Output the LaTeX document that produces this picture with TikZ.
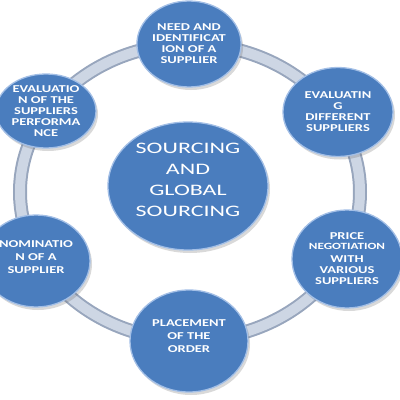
\documentclass[tikz,border=0pt]{standalone}
\usepackage{fontspec}
\usetikzlibrary{shapes.geometric,shadows}
\newfontfamily\discfont{Carlito}[FakeStretch=1.5]
\newfontfamily\discbold{Carlito Bold}[FakeStretch=1.38]
\definecolor{discblue}{HTML}{4A7DBE}
\definecolor{discrim}{HTML}{A3BFE6}
\definecolor{ringedge}{HTML}{98A6BD}
\definecolor{ringfill}{HTML}{CDD6E4}
\tikzset{
  disc/.style={ellipse, fill=discblue, draw=discrim, line width=1.3pt, inner sep=0pt,
    text=white, align=center, font=\discbold\fontsize{10.5}{11}\selectfont,
    drop shadow={shadow xshift=2pt, shadow yshift=-3pt, opacity=0.25, fill=black!60}},
}
\begin{document}
\begin{tikzpicture}[x=1pt,y=-1pt]
\useasboundingbox (0,0) rectangle (400,400);
\clip (0,0) rectangle (400,400);
% ring
\draw[ringedge, line width=14pt] (190,192) ellipse [x radius=170, y radius=148];
\draw[ringfill, line width=10pt] (190,192) ellipse [x radius=170, y radius=148];
% discs
\node[disc, minimum width=104pt, minimum height=86pt] (need) at (189,44)
  {NEED AND\\IDENTIFICAT\\ION OF A\\SUPPLIER};
\node[disc, minimum width=110pt, minimum height=89pt] (evald) at (338,112)
  {EVALUATIN\\G\\DIFFERENT\\SUPPLIERS};
\node[disc, minimum width=110pt, minimum height=98pt] (price) at (347,259)
  {PRICE\\[-1pt]{\fontsize{9.5}{10}\selectfont NEGOTIATION}\\[2pt]WITH\\VARIOUS\\SUPPLIERS};
\node[disc, minimum width=118pt, minimum height=102pt, text depth=9pt] (order) at (189,341)
  {PLACEMENT\\[2pt]OF THE\\[2pt]ORDER};
\node[disc, minimum width=108pt, minimum height=92pt, text depth=8pt] (nomin) at (36,261)
  {NOMINATIO\\[2pt]N OF A\\[2pt]SUPPLIER};
\node[disc, minimum width=100pt, minimum height=74pt] (perf) at (46,111)
  {EVALUATIO\\N OF THE\\SUPPLIERS\\PERFORMA\\NCE};
\node[disc, minimum width=160pt, minimum height=128pt, text depth=12pt,
  font=\discfont\fontsize{16}{21}\selectfont] (center) at (188,186)
  {SOURCING\\AND\\GLOBAL\\SOURCING};
\end{tikzpicture}
\end{document}
